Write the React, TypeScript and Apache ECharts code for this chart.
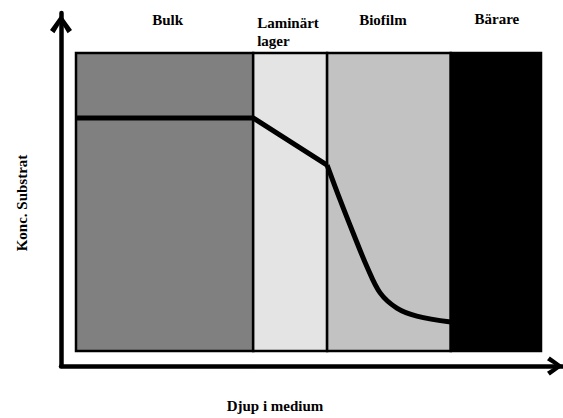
import React, { useEffect, useRef } from "react";
import * as echarts from "echarts";

// Regions along the depth axis (0–100 % of the medium shown)
const regionNames = ["Bulk", "Laminärt\nlager", "Biofilm", "Bärare"];
const regionStarts = [0, 38.1, 54.0, 80.6];
const regionEnds = [38.1, 54.0, 80.6, 100];

// Substrate concentration profile (depth, concentration)
const linearDepth = [0, 38.1, 54.0];
const linearConc = [78.2, 78.2, 62.4];
const curveDepth = [54.0, 56.8, 59.6, 62.6, 65.4, 69.0, 73.3, 80.6];
const curveConc = [62.4, 50.7, 39.6, 28.2, 19.5, 14.4, 11.7, 9.7];

const xAxisTitle = "Djup i medium";
const yAxisTitle = "Konc. Substrat";

const regionColors = ["#808080", "#e4e4e4", "#c2c2c2", "#000000"];
const FONT = "Liberation Serif, serif";

export default function App() {
  const ref = useRef<HTMLDivElement>(null);
  useEffect(() => {
    document.body.style.margin = "0";
    if (!ref.current) return;
    const chart = echarts.init(ref.current, null, { renderer: "svg" });

    const labelTweaks = [
      { distance: 23, offset: [3, 0], align: "center" },
      { distance: 2, offset: [-33, 0], align: "left" },
      { distance: 23, offset: [-6, 0], align: "center" },
      { distance: 24, offset: [1, 0], align: "center" },
    ];

    const areaData = regionNames.map((name, i) => [
      {
        name,
        xAxis: regionStarts[i],
        itemStyle: { color: regionColors[i], borderColor: "#000", borderWidth: 2.5 },
        label: {
          show: true,
          position: "top",
          distance: labelTweaks[i].distance,
          offset: labelTweaks[i].offset,
          align: labelTweaks[i].align,
          color: "#000",
          fontFamily: FONT,
          fontWeight: "bold",
          fontSize: 15,
          lineHeight: 18,
        },
      },
      { xAxis: regionEnds[i] },
    ]);

    const chevron = "path://M10,0 L20,14 L16,17 L10,7 L4,17 L0,14 Z";

    chart.setOption({
      animation: false,
      grid: [
        { left: 76, right: 22, top: 53, bottom: 67 },
        { left: 61, right: 0, top: 13, bottom: 52 },
      ],
      xAxis: [
        { type: "value", min: 0, max: 100, show: false, gridIndex: 0 },
        {
          type: "value",
          min: 0,
          max: 100,
          gridIndex: 1,
          axisLine: {
            show: true,
            symbol: ["none", chevron],
            symbolSize: [28, 16],
            symbolOffset: [0, -8],
            lineStyle: { color: "#000", width: 4.5 },
          },
          axisTick: { show: false },
          axisLabel: { show: false },
          splitLine: { show: false },
        },
      ],
      yAxis: [
        { type: "value", min: 0, max: 100, show: false, gridIndex: 0 },
        {
          type: "value",
          min: 0,
          max: 100,
          gridIndex: 1,
          axisLine: {
            show: true,
            symbol: ["none", chevron],
            symbolSize: [22, 22],
            symbolOffset: [0, -11],
            lineStyle: { color: "#000", width: 4.5 },
          },
          axisTick: { show: false },
          axisLabel: { show: false },
          splitLine: { show: false },
        },
      ],
      graphic: [
        {
          type: "text",
          x: 22,
          y: 203,
          rotation: Math.PI / 2,
          style: {
            text: yAxisTitle,
            font: `bold 15px ${FONT}`,
            textAlign: "center",
            textVerticalAlign: "middle",
            fill: "#000",
          },
        },
        {
          type: "text",
          x: 275,
          y: 406,
          style: {
            text: xAxisTitle,
            font: `bold 15px ${FONT}`,
            textAlign: "center",
            textVerticalAlign: "middle",
            fill: "#000",
          },
        },
      ],
      series: [
        {
          type: "line",
          xAxisIndex: 0,
          yAxisIndex: 0,
          data: linearDepth.map((d, i) => [d, linearConc[i]]),
          symbol: "none",
          lineStyle: { color: "#000", width: 5 },
          markArea: { silent: true, data: areaData },
          z: 3,
        },
        {
          type: "line",
          xAxisIndex: 0,
          yAxisIndex: 0,
          data: curveDepth.map((d, i) => [d, curveConc[i]]),
          symbol: "none",
          smooth: 0.35,
          lineStyle: { color: "#000", width: 5 },
          z: 3,
        },
      ],
    });
    return () => chart.dispose();
  }, []);
  return <div ref={ref} style={{ width: 563, height: 418 }} />;
}
